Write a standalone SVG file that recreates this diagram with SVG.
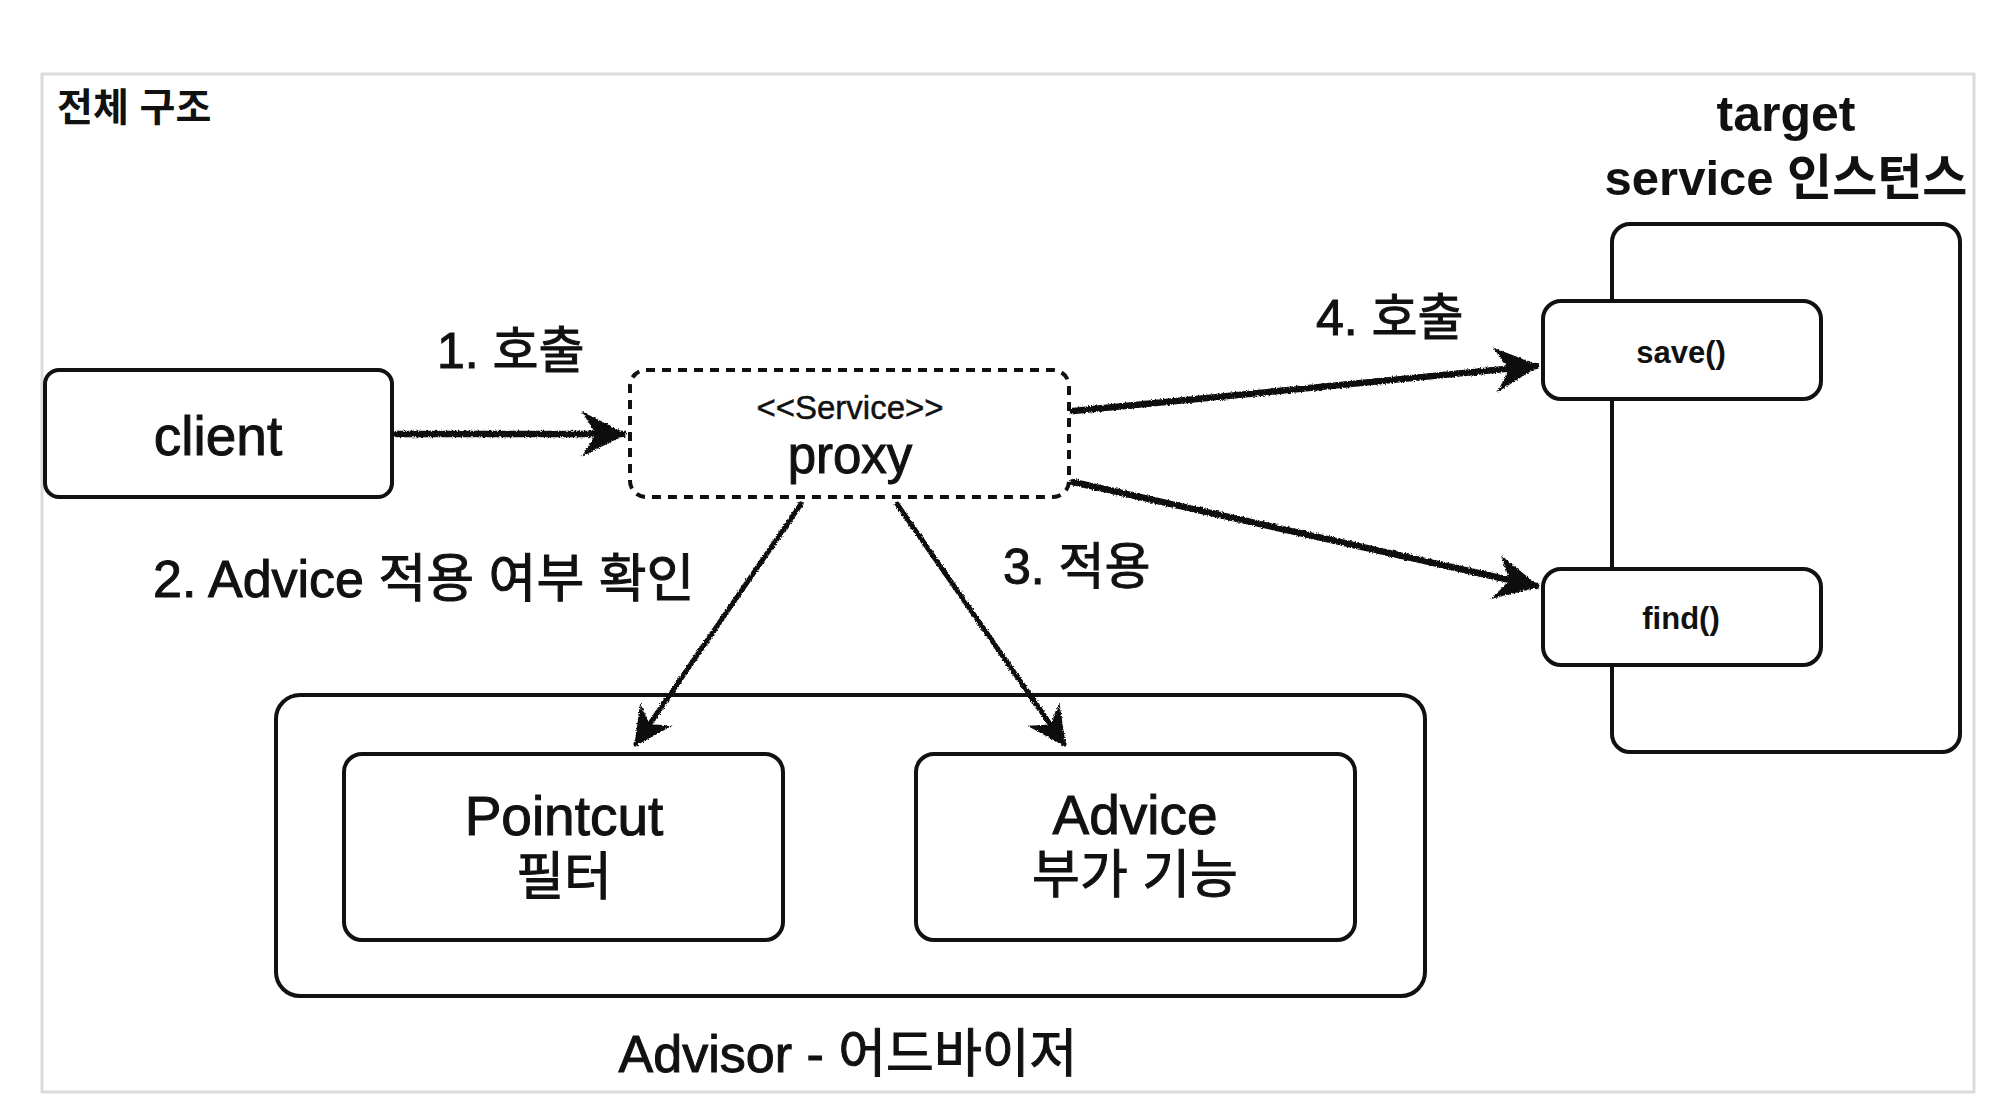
<svg xmlns="http://www.w3.org/2000/svg" width="2000" height="1114" viewBox="0 0 2000 1114">
<style>
text{font-family:"Liberation Sans","Noto Sans CJK KR",sans-serif;fill:#111;}
.m{stroke:#111;stroke-width:1;}
.box{fill:#fff;stroke:#111;stroke-width:4;}
.c{text-anchor:middle;}
.b{font-weight:bold;}
.conn{fill:none;stroke:#111;stroke-linecap:round;}
.thick{stroke-width:6.5;}
.thin{stroke-width:5;}
</style>
<defs>
<filter id="rough" x="-5%" y="-5%" width="110%" height="110%">
<feTurbulence type="fractalNoise" baseFrequency="0.6" numOctaves="2" seed="3" result="n"/>
<feDisplacementMap in="SourceGraphic" in2="n" scale="3.5" xChannelSelector="R" yChannelSelector="G"/>
</filter>
<marker id="arr" viewBox="0 0 20 20" refX="18" refY="10" markerWidth="7" markerHeight="7" orient="auto" markerUnits="strokeWidth">
<path d="M2,2 L18,10 L2,18 L7,10 z" fill="#111" stroke="#111" stroke-width="1.5" stroke-linejoin="miter"/>
</marker>
<marker id="arrT" viewBox="0 0 20 20" refX="18" refY="10" markerWidth="8" markerHeight="8" orient="auto" markerUnits="strokeWidth">
<path d="M2,2 L18,10 L2,18 L7,10 z" fill="#111" stroke="#111" stroke-width="1.5"/>
</marker>
</defs>
<rect x="0" y="0" width="2000" height="1114" fill="#fff"/>
<rect id="frame" x="42" y="74" width="1932" height="1018" fill="#fff" stroke="#dcdcdc" stroke-width="3"/>
<text x="57" y="121" font-size="39" class="b">전체 구조</text>

<g id="target">
<rect class="box" x="1612" y="224" width="348" height="528" rx="18"/>
<text x="1786" y="131" class="c b" font-size="50">target</text>
<text x="1786" y="195" class="c b" font-size="49">service 인스턴스</text>
</g>
<g id="save">
<rect class="box" x="1543" y="301" width="278" height="98" rx="18"/>
<text x="1681" y="363" class="c b" font-size="31">save()</text>
</g>
<g id="find">
<rect class="box" x="1543" y="569" width="278" height="96" rx="18"/>
<text x="1681" y="629" class="c b" font-size="31">find()</text>
</g>

<g id="client">
<rect class="box" x="45" y="370" width="347" height="127" rx="14"/>
<text x="218" y="455" class="c m" font-size="55">client</text>
</g>
<g id="proxy">
<rect x="630" y="370" width="439" height="127" rx="16" fill="#fff" stroke="#111" stroke-width="4" stroke-dasharray="9 7"/>
<text x="850" y="419" class="c" font-size="33" stroke="#111" stroke-width="0.5">&lt;&lt;Service&gt;&gt;</text>
<text x="850" y="473" class="c m" font-size="51">proxy</text>
</g>

<g id="advisor">
<rect class="box" x="276" y="695" width="1149" height="301" rx="24"/>
<text x="848" y="1072" class="c m" font-size="52">Advisor - 어드바이저</text>
</g>
<g id="pointcut">
<rect class="box" x="344" y="754" width="439" height="186" rx="18"/>
<text x="564" y="835" class="c m" font-size="55">Pointcut</text>
<text x="564" y="895" class="c m" font-size="52">필터</text>
</g>
<g id="advice">
<rect class="box" x="916" y="754" width="439" height="186" rx="18"/>
<text x="1135" y="834" class="c m" font-size="55">Advice</text>
<text x="1135" y="893" class="c m" font-size="52">부가 기능</text>
</g>

<g id="connectors" filter="url(#rough)">
<line class="conn thick" x1="397" y1="434" x2="623" y2="434" marker-end="url(#arr)"/>
<line class="conn thick" x1="1073" y1="411" x2="1536" y2="366" marker-end="url(#arr)"/>
<line class="conn thick" x1="1073" y1="482" x2="1536" y2="586" marker-end="url(#arr)"/>
<line class="conn thin" x1="801" y1="504" x2="636" y2="744" marker-end="url(#arrT)"/>
<line class="conn thin" x1="897" y1="504" x2="1064" y2="744" marker-end="url(#arrT)"/>
</g>
<g id="connector-labels">
<text x="437" y="368" class="m" font-size="50">1. 호출</text>
<text x="1316" y="335" class="m" font-size="50">4. 호출</text>
<text x="153" y="597" class="m" font-size="52">2. Advice 적용 여부 확인</text>
<text x="1003" y="584" class="m" font-size="50">3. 적용</text>
</g>
</svg>
